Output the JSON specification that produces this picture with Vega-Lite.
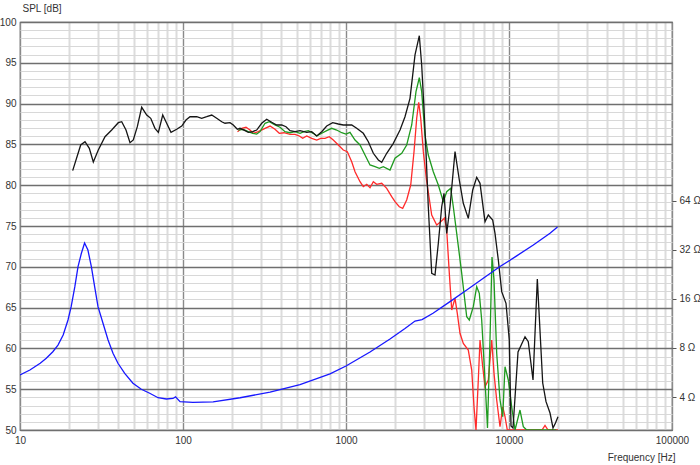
{
"$schema": "https://vega.github.io/schema/vega-lite/v6.json",
"width": 652,
"height": 408,
"autosize": {"type": "none"},
"padding": {"left": 20, "top": 22, "right": 28, "bottom": 35},
"background": "white",
"config": {
  "view": {"stroke": "#5a5a5a", "strokeWidth": 1.2},
  "font": "Liberation Sans",
  "axis": {"labelFont": "Liberation Sans", "labelFontSize": 10, "labelColor": "#333333", "titleFont": "Liberation Sans", "titleFontSize": 10, "titleFontWeight": "normal", "titleColor": "#333333"}
},
"datasets": {
  "red": [
    {"f":216,"spl":86.56},{"f":229.2,"spl":86.97},{"f":243.5,"spl":87.1},{"f":257.6,"spl":86.76},{"f":269.9,"spl":86.36},{"f":289.6,"spl":86.56},{"f":318.6,"spl":86.97},{"f":341.9,"spl":87.25},{"f":366.8,"spl":86.85},{"f":389.8,"spl":86.36},{"f":416.6,"spl":86.43},{"f":453.5,"spl":86.24},{"f":486.6,"spl":86.24},{"f":517.1,"spl":86.03},{"f":542.6,"spl":85.75},{"f":574.1,"spl":86.03},{"f":616.2,"spl":85.75},{"f":661.4,"spl":85.54},{"f":699.6,"spl":85.75},{"f":743.2,"spl":85.75},{"f":789.7,"spl":85.94},{"f":835.7,"spl":85.54},{"f":897.2,"spl":84.93},{"f":962.5,"spl":84.31},{"f":1019,"spl":84.11},{"f":1084,"spl":82.88},{"f":1136,"spl":81.65},{"f":1219,"spl":80.43},{"f":1277,"spl":79.82},{"f":1340,"spl":80.11},{"f":1404,"spl":79.69},{"f":1471,"spl":80.43},{"f":1543,"spl":80.11},{"f":1656,"spl":80.23},{"f":1777,"spl":79.62},{"f":1907,"spl":78.59},{"f":1998,"spl":77.98},{"f":2123,"spl":77.36},{"f":2228,"spl":77.17},{"f":2357,"spl":78.19},{"f":2495,"spl":80.02},{"f":2614,"spl":84.11},{"f":2715,"spl":88.2},{"f":2793,"spl":90.16},{"f":2873,"spl":88.2},{"f":2981,"spl":84.11},{"f":3118,"spl":80.64},{"f":3356,"spl":76.35},{"f":3602,"spl":75.12},{"f":3826,"spl":75.55},{"f":4022,"spl":75.98},{"f":4148,"spl":74.51},{"f":4303,"spl":69.2},{"f":4452,"spl":64.71},{"f":4665,"spl":66.14},{"f":4817,"spl":64.3},{"f":5004,"spl":61.85},{"f":5244,"spl":60.62},{"f":5627,"spl":59.8},{"f":5905,"spl":57.35},{"f":6099,"spl":52.85},{"f":6274,"spl":50},{"f":6481,"spl":56.13},{"f":6640,"spl":61.03},{"f":6898,"spl":57.76},{"f":7125,"spl":55.31},{"f":7464,"spl":56.13},{"f":7833,"spl":61.03},{"f":8091,"spl":56.95},{"f":8404,"spl":53.68},{"f":8807,"spl":50.4},{"f":9150,"spl":52.85},{"f":9452,"spl":51.63},{"f":9763,"spl":50},{"f":15940,"spl":50},{"f":16630,"spl":50.57},{"f":17350,"spl":50},{"f":19980,"spl":50}
  ],
  "green": [
    {"f":218.4,"spl":86.76},{"f":234.4,"spl":86.85},{"f":251.5,"spl":86.56},{"f":267.7,"spl":86.36},{"f":283.2,"spl":86.27},{"f":296.8,"spl":86.56},{"f":318.6,"spl":87.59},{"f":338.4,"spl":87.78},{"f":366.8,"spl":87.38},{"f":393.7,"spl":87.1},{"f":422.6,"spl":86.56},{"f":453.5,"spl":86.43},{"f":486.6,"spl":86.56},{"f":522.3,"spl":86.36},{"f":552.6,"spl":86.56},{"f":587.1,"spl":86.68},{"f":630.2,"spl":86.36},{"f":661.4,"spl":86.03},{"f":709.6,"spl":86.36},{"f":761.5,"spl":86.68},{"f":817.1,"spl":86.97},{"f":877,"spl":86.76},{"f":941.1,"spl":86.43},{"f":1000,"spl":86.27},{"f":1058,"spl":86.48},{"f":1136,"spl":85.54},{"f":1219,"spl":84.93},{"f":1308,"spl":83.7},{"f":1404,"spl":82.48},{"f":1507,"spl":82.27},{"f":1601,"spl":82.07},{"f":1694,"spl":82.27},{"f":1862,"spl":81.86},{"f":1998,"spl":83.3},{"f":2197,"spl":83.91},{"f":2357,"spl":84.93},{"f":2530,"spl":87.38},{"f":2688,"spl":91.46},{"f":2817,"spl":93.17},{"f":2913,"spl":91.46},{"f":3052,"spl":86.15},{"f":3198,"spl":83.7},{"f":3432,"spl":81.65},{"f":3685,"spl":80.02},{"f":3954,"spl":77.98},{"f":4148,"spl":79.2},{"f":4389,"spl":79.62},{"f":4553,"spl":77.36},{"f":4777,"spl":74.1},{"f":5127,"spl":69.2},{"f":5503,"spl":63.88},{"f":5707,"spl":63.48},{"f":6039,"spl":65.11},{"f":6337,"spl":67.56},{"f":6574,"spl":66.75},{"f":6800,"spl":63.48},{"f":7125,"spl":56.13},{"f":7380,"spl":50.25},{"f":7644,"spl":61.03},{"f":7865,"spl":71.2},{"f":8091,"spl":68.38},{"f":8404,"spl":59.4},{"f":8807,"spl":53.68},{"f":9150,"spl":51.63},{"f":9452,"spl":57.76},{"f":9901,"spl":56.13},{"f":10390,"spl":52.85},{"f":10890,"spl":50},{"f":11680,"spl":52.45},{"f":12240,"spl":50.4},{"f":12840,"spl":50},{"f":19500,"spl":50}
  ],
  "black": [
    {"f":21.05,"spl":81.78},{"f":23.57,"spl":84.93},{"f":25.05,"spl":85.33},{"f":26.62,"spl":84.52},{"f":28.17,"spl":82.84},{"f":30.22,"spl":84.31},{"f":33.23,"spl":85.94},{"f":36.52,"spl":86.76},{"f":40.1,"spl":87.66},{"f":42.07,"spl":87.78},{"f":44.7,"spl":86.76},{"f":47.3,"spl":85.21},{"f":49.55,"spl":85.54},{"f":52.45,"spl":87.17},{"f":55.8,"spl":89.55},{"f":59.9,"spl":88.6},{"f":63.4,"spl":88.2},{"f":67.3,"spl":86.97},{"f":70.6,"spl":86.48},{"f":75.1,"spl":88.6},{"f":79.4,"spl":87.59},{"f":84.4,"spl":86.48},{"f":91.5,"spl":86.85},{"f":98.2,"spl":87.25},{"f":104.3,"spl":87.99},{"f":110.4,"spl":88.39},{"f":121.4,"spl":88.39},{"f":130.2,"spl":88.2},{"f":139.8,"spl":88.39},{"f":150.1,"spl":88.6},{"f":161,"spl":88.2},{"f":172.8,"spl":87.78},{"f":181,"spl":87.59},{"f":194.3,"spl":87.66},{"f":203.5,"spl":87.38},{"f":215.4,"spl":86.85},{"f":223.7,"spl":86.97},{"f":240.2,"spl":86.68},{"f":251.5,"spl":86.48},{"f":267.7,"spl":86.56},{"f":283.2,"spl":86.76},{"f":304,"spl":87.59},{"f":326.2,"spl":88.08},{"f":350.1,"spl":87.71},{"f":375.7,"spl":87.38},{"f":403.3,"spl":87.38},{"f":428.5,"spl":87.17},{"f":453.5,"spl":86.68},{"f":486.6,"spl":86.56},{"f":522.3,"spl":86.68},{"f":574.1,"spl":86.48},{"f":616.2,"spl":86.56},{"f":661.4,"spl":86.03},{"f":709.6,"spl":86.56},{"f":761.5,"spl":87.25},{"f":828.6,"spl":87.66},{"f":897.2,"spl":87.5},{"f":962.5,"spl":87.38},{"f":1010,"spl":87.38},{"f":1084,"spl":87.38},{"f":1163,"spl":86.97},{"f":1277,"spl":86.36},{"f":1371,"spl":85.33},{"f":1471,"spl":83.91},{"f":1579,"spl":83.09},{"f":1656,"spl":82.81},{"f":1777,"spl":83.91},{"f":1951,"spl":85.13},{"f":2145,"spl":86.76},{"f":2301,"spl":88.39},{"f":2470,"spl":90.65},{"f":2651,"spl":95.96},{"f":2817,"spl":98.32},{"f":2913,"spl":94.73},{"f":3009,"spl":89.42},{"f":3096,"spl":84.11},{"f":3198,"spl":77.36},{"f":3356,"spl":69.2},{"f":3516,"spl":68.99},{"f":3685,"spl":72.88},{"f":3865,"spl":77.36},{"f":3993,"spl":79.01},{"f":4148,"spl":74.1},{"f":4345,"spl":77.36},{"f":4665,"spl":84.11},{"f":4956,"spl":80.64},{"f":5244,"spl":77.78},{"f":5627,"spl":75.94},{"f":5989,"spl":79.41},{"f":6337,"spl":80.97},{"f":6640,"spl":80.23},{"f":7125,"spl":75.53},{"f":7464,"spl":76.35},{"f":7943,"spl":75.73},{"f":8207,"spl":74.1},{"f":8600,"spl":70.83},{"f":9020,"spl":66.95},{"f":9585,"spl":65.53},{"f":10040,"spl":61.03},{"f":10290,"spl":50.49},{"f":10580,"spl":50.25},{"f":11360,"spl":59.56},{"f":12540,"spl":61.43},{"f":13130,"spl":60.82},{"f":14040,"spl":56.13},{"f":14920,"spl":68.5},{"f":16100,"spl":55.76},{"f":16870,"spl":53.47},{"f":17850,"spl":52.08},{"f":18620,"spl":50.25},{"f":19280,"spl":50.86},{"f":19980,"spl":51.63}
  ],
  "impedance": [
    {"f":10,"z":5.46},{"f":11.5,"z":5.86},{"f":13.3,"z":6.44},{"f":14.5,"z":6.91},{"f":15.9,"z":7.58},{"f":17.1,"z":8.33},{"f":18.4,"z":9.6},{"f":19.7,"z":11.86},{"f":20.6,"z":14.31},{"f":21.7,"z":18.97},{"f":22.7,"z":25.2},{"f":23.8,"z":30.4},{"f":24.9,"z":35.1},{"f":26.1,"z":31.8},{"f":27.4,"z":25.2},{"f":28.7,"z":18.97},{"f":30.1,"z":14.31},{"f":32.3,"z":11.32},{"f":34.7,"z":8.94},{"f":37.2,"z":7.41},{"f":39.9,"z":6.44},{"f":43.9,"z":5.59},{"f":49.3,"z":4.86},{"f":55.5,"z":4.46},{"f":62.5,"z":4.22},{"f":70.3,"z":3.96},{"f":79,"z":3.89},{"f":86.8,"z":3.92},{"f":90,"z":4.01},{"f":95.9,"z":3.75},{"f":115,"z":3.71},{"f":153,"z":3.74},{"f":224,"z":3.96},{"f":342,"z":4.29},{"f":522,"z":4.77},{"f":798,"z":5.54},{"f":1000,"z":6.2},{"f":1404,"z":7.55},{"f":1862,"z":9.07},{"f":2301,"z":10.52},{"f":2651,"z":11.69},{"f":2926,"z":11.94},{"f":3418,"z":13.04},{"f":4345,"z":15.36},{"f":5503,"z":18.11},{"f":6957,"z":21.36},{"f":8807,"z":25.2},{"f":11150,"z":29.3},{"f":14100,"z":34.2},{"f":17850,"z":40.3},{"f":19840,"z":44.1}
  ]
},
"layer": [
  {
    "layer": [
      {
        "data": {"name": "red"},
        "mark": {"type": "line", "color": "#ff2a2a", "strokeWidth": 1.3, "clip": true},
        "encoding": {
          "x": {"field": "f", "type": "quantitative",
            "scale": {"type": "log", "domain": [10, 100000], "nice": false},
            "axis": {
              "values": [10,20,30,40,50,60,70,80,90,100,200,300,400,500,600,700,800,900,1000,2000,3000,4000,5000,6000,7000,8000,9000,10000,20000,30000,40000,50000,60000,70000,80000,90000,100000],
              "tickCount": 100,
              "labelExpr": "indexof([10,100,1000,10000,100000], datum.value) >= 0 ? format(datum.value, 'd') : ''",
              "ticks": false, "domain": false, "labelPadding": 5,
              "labelOverlap": false, "labelFlush": false, "labelBound": false,
              "grid": true,
              "gridColor": {"condition": {"test": "indexof([10,100,1000,10000,100000], datum.value) >= 0", "value": "#8a8a8a"}, "value": "#dcdcdc"},
              "gridWidth": {"condition": {"test": "indexof([10,100,1000,10000,100000], datum.value) >= 0", "value": 1.4}, "value": 2},
              "title": "Frequency [Hz]", "titleAlign": "right", "titleBaseline": "middle", "titleX": 655, "titleY": 27
            }
          },
          "y": {"field": "spl", "type": "quantitative",
            "scale": {"domain": [50, 100], "nice": false, "zero": false},
            "axis": {
              "values": [50,51,52,53,54,55,56,57,58,59,60,61,62,63,64,65,66,67,68,69,70,71,72,73,74,75,76,77,78,79,80,81,82,83,84,85,86,87,88,89,90,91,92,93,94,95,96,97,98,99,100],
              "tickCount": 100,
              "labelExpr": "datum.value % 5 == 0 ? format(datum.value, 'd') : ''",
              "ticks": false, "domain": false, "labelPadding": 4,
              "labelOverlap": false, "labelFlush": false, "labelBound": false,
              "grid": true,
              "gridColor": {"condition": {"test": "datum.value % 5 == 0", "value": "#6f6f6f"}, "value": "#d8d8d8"},
              "gridWidth": {"condition": {"test": "datum.value % 5 == 0", "value": 1.5}, "value": 1.2},
              "title": "SPL [dB]", "titleAngle": 0, "titleAlign": "left", "titleBaseline": "middle", "titleX": 2, "titleY": -14
            }
          }
        }
      },
      {
        "data": {"name": "green"},
        "mark": {"type": "line", "color": "#1f9a1f", "strokeWidth": 1.3, "clip": true},
        "encoding": {
          "x": {"field": "f", "type": "quantitative"},
          "y": {"field": "spl", "type": "quantitative"}
        }
      },
      {
        "data": {"name": "black"},
        "mark": {"type": "line", "color": "#151515", "strokeWidth": 1.3, "clip": true},
        "encoding": {
          "x": {"field": "f", "type": "quantitative"},
          "y": {"field": "spl", "type": "quantitative"}
        }
      }
    ]
  },
  {
    "data": {"name": "impedance"},
    "mark": {"type": "line", "color": "#1818ff", "strokeWidth": 1.3, "clip": true},
    "encoding": {
      "x": {"field": "f", "type": "quantitative"},
      "y": {"field": "z", "type": "quantitative",
        "scale": {"type": "log", "domain": [2.5119, 794.33], "nice": false},
        "axis": {
          "orient": "right", "values": [4, 8, 16, 32, 64],
          "tickCount": 100,
          "labelExpr": "datum.value + ' Ω'",
          "grid": false, "domain": false, "ticks": true, "tickSize": 4, "tickColor": "#555555",
          "labelPadding": 3, "labelOverlap": false, "title": null
        }
      }
    }
  }
],
"resolve": {"scale": {"y": "independent"}, "axis": {"y": "independent"}}
}
